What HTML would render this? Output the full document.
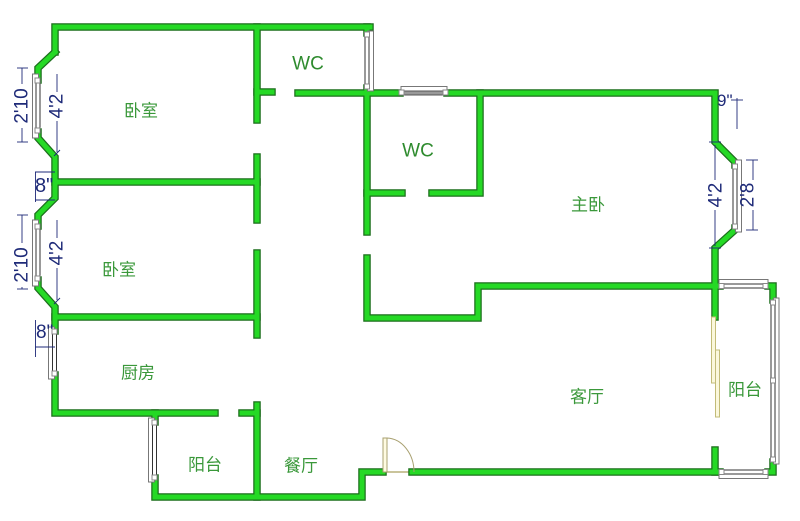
<!DOCTYPE html>
<html><head><meta charset="utf-8"><style>
html,body{margin:0;padding:0;background:#fff;}
svg{display:block;}
.rm{font-family:"Liberation Sans","Noto Sans CJK SC",sans-serif;font-size:17px;fill:#3a983a;}
.wc{font-family:"Liberation Sans",sans-serif;font-size:19px;fill:#2e8b2e;}
.dm{font-family:"Liberation Sans",sans-serif;font-size:19px;fill:#1e2a78;}
</style></head><body>
<svg width="800" height="521" viewBox="0 0 800 521" xmlns="http://www.w3.org/2000/svg">
<defs>
<g id="walls">
<path d="M55,52 L55,27 L370,27"/>
<path d="M367,27 L367,33"/>
<path d="M367,88 L367,232"/>
<path d="M367,258 L367,318 L478,318 L478,286 L720,286"/>
<path d="M768,286 L773,286 L773,300"/>
<path d="M773,462 L773,472 L768,472"/>
<path d="M720,472 L412,472"/>
<path d="M383,472 L362,472 L362,497 L155,497 L155,478"/>
<path d="M155,422 L155,413 L215,413"/>
<path d="M242,413 L257,413"/>
<path d="M257,405 L257,497"/>
<path d="M55,52 L38,68 L38,80"/>
<path d="M38,132 L38,138 L55,157 L55,198 L38,215 L38,226"/>
<path d="M38,280 L38,288 L55,307 L55,331"/>
<path d="M55,375 L55,413 L155,413"/>
<path d="M55,182 L257,182"/>
<path d="M257,157 L257,220"/>
<path d="M257,27 L257,120"/>
<path d="M257,92 L272,92"/>
<path d="M55,317 L257,317"/>
<path d="M257,253 L257,335"/>
<path d="M298,93 L400,93"/>
<path d="M447,93 L715,93 L715,142 L735,162 L735,165"/>
<path d="M735,228 L735,230 L715,248 L715,317"/>
<path d="M715,450 L715,472"/>
<path d="M480,93 L480,193 L432,193"/>
<path d="M402,193 L367,193"/>
</g>
</defs>
<rect width="800" height="521" fill="#fff"/>

<!-- door threshold -->
<line x1="383" y1="472" x2="413" y2="472" stroke="#b8b07a" stroke-width="1.5"/>

<!-- walls -->
<g fill="none" stroke="#1c6e1c" stroke-width="7.5" stroke-linecap="square" stroke-linejoin="miter"><use href="#walls"/></g>
<g fill="none" stroke="#25d925" stroke-width="5" stroke-linecap="square" stroke-linejoin="miter"><use href="#walls"/></g>

<!-- windows -->
<g stroke-width="1">
<!-- W1 -->
<rect x="32.5" y="74" width="6" height="64" fill="#fff" stroke="#777"/>
<rect x="36" y="80" width="4" height="52" fill="#fff" stroke="#333"/>
<rect x="35" y="78" width="5" height="5" fill="#fff" stroke="#888"/>
<rect x="35" y="128" width="5" height="5" fill="#fff" stroke="#888"/>
<!-- W2 -->
<rect x="32.5" y="220" width="6" height="66" fill="#fff" stroke="#777"/>
<rect x="36" y="226" width="4" height="54" fill="#fff" stroke="#333"/>
<rect x="35" y="224" width="5" height="5" fill="#fff" stroke="#888"/>
<rect x="35" y="276" width="5" height="5" fill="#fff" stroke="#888"/>
<!-- W3 kitchen -->
<rect x="48.5" y="327" width="6" height="52" fill="#fff" stroke="#777"/>
<rect x="52.5" y="331" width="4" height="44" fill="#fff" stroke="#333"/>
<rect x="52" y="329" width="5" height="5" fill="#fff" stroke="#888"/>
<rect x="52" y="371" width="5" height="5" fill="#fff" stroke="#888"/>
<!-- W4 balcony left -->
<rect x="148.5" y="418" width="6" height="64" fill="#fff" stroke="#777"/>
<rect x="152.5" y="422" width="4" height="56" fill="#fff" stroke="#333"/>
<rect x="152" y="420" width="5" height="5" fill="#fff" stroke="#888"/>
<rect x="152" y="475" width="5" height="5" fill="#fff" stroke="#888"/>
<!-- W5 WC right -->
<rect x="367.5" y="31" width="6" height="60" fill="#fff" stroke="#777"/>
<rect x="365" y="33" width="4" height="55" fill="#fff" stroke="#333"/>
<rect x="364.5" y="32" width="5" height="5" fill="#fff" stroke="#888"/>
<rect x="364.5" y="84" width="5" height="5" fill="#fff" stroke="#888"/>
<!-- W6 master bedroom -->
<rect x="735.5" y="160" width="6" height="72" fill="#fff" stroke="#777"/>
<rect x="733" y="165" width="4" height="63" fill="#fff" stroke="#333"/>
<rect x="732.5" y="164" width="5" height="5" fill="#fff" stroke="#888"/>
<rect x="732.5" y="224" width="5" height="5" fill="#fff" stroke="#888"/>
<!-- W7 balcony right -->
<rect x="773.5" y="298" width="5.5" height="166" fill="#fff" stroke="#777"/>
<rect x="771" y="300" width="4" height="162" fill="#fff" stroke="#333"/>
<rect x="770.5" y="300" width="5" height="5" fill="#fff" stroke="#888"/>
<rect x="770.5" y="378" width="5" height="5" fill="#fff" stroke="#888"/>
<rect x="770.5" y="457" width="5" height="5" fill="#fff" stroke="#888"/>
<!-- W8 top -->
<rect x="401" y="86.5" width="46" height="6" fill="#fff" stroke="#777"/>
<rect x="402" y="91" width="43" height="4" fill="#999" stroke="#555"/>
<rect x="399" y="90" width="5" height="5" fill="#fff" stroke="#888"/>
<rect x="443" y="90" width="5" height="5" fill="#fff" stroke="#888"/>
<!-- W9 balcony top -->
<rect x="719" y="279.5" width="49" height="6" fill="#fff" stroke="#777"/>
<rect x="721" y="284" width="46" height="4" fill="#fff" stroke="#333"/>
<rect x="719" y="283.5" width="5" height="5" fill="#fff" stroke="#888"/>
<rect x="763" y="283.5" width="5" height="5" fill="#fff" stroke="#888"/>
<!-- W10 balcony bottom -->
<rect x="719" y="472.5" width="49" height="6" fill="#fff" stroke="#777"/>
<rect x="721" y="470" width="46" height="4" fill="#fff" stroke="#333"/>
<rect x="719" y="469.5" width="5" height="5" fill="#fff" stroke="#888"/>
<rect x="763" y="469.5" width="5" height="5" fill="#fff" stroke="#888"/>
</g>

<!-- entry door -->
<rect x="383" y="438" width="4" height="34" fill="#fffbe2" stroke="#a8a070" stroke-width="1"/>
<path d="M387,438 A28,34 0 0 1 414,472" fill="none" stroke="#a8a070" stroke-width="1"/>

<!-- sliding door -->
<rect x="711.5" y="317" width="4" height="66" fill="#fbf8dc" stroke="#c2bb78" stroke-width="1"/>
<rect x="715.5" y="350" width="4" height="67" fill="#fbf8dc" stroke="#c2bb78" stroke-width="1"/>

<!-- dimension lines -->
<g stroke="#1e2a78" stroke-width="0.9" fill="none">
<line x1="22" y1="68" x2="22" y2="84"/><line x1="22" y1="128" x2="22" y2="142"/>
<line x1="17" y1="68" x2="28" y2="68"/><line x1="17" y1="142" x2="28" y2="142"/>
<line x1="57" y1="74" x2="57" y2="92"/><line x1="57" y1="121" x2="57" y2="152"/>
<line x1="54" y1="156" x2="60" y2="150"/>
<line x1="22" y1="215" x2="22" y2="243"/><line x1="22" y1="287" x2="22" y2="289"/>
<line x1="17" y1="215" x2="28" y2="215"/><line x1="17" y1="289" x2="28" y2="289"/>
<line x1="57" y1="220" x2="57" y2="238"/><line x1="57" y1="268" x2="57" y2="300"/>
<line x1="54" y1="304" x2="60" y2="298"/>
<line x1="35.5" y1="172" x2="35.5" y2="202"/><line x1="35" y1="172" x2="55" y2="172"/><line x1="35" y1="200" x2="55" y2="200"/>
<line x1="35.5" y1="320" x2="35.5" y2="357"/><line x1="35" y1="347" x2="55" y2="347"/>
<line x1="737" y1="98" x2="737" y2="129"/><line x1="731" y1="100" x2="743" y2="100"/>
<line x1="715" y1="145" x2="715" y2="180"/><line x1="715" y1="210" x2="715" y2="246"/>
<line x1="709" y1="142" x2="721" y2="142"/><line x1="709" y1="248" x2="721" y2="248"/>
<line x1="753" y1="160" x2="753" y2="180"/><line x1="753" y1="210" x2="753" y2="230"/>
<line x1="746" y1="160" x2="758" y2="160"/><line x1="746" y1="230" x2="758" y2="230"/>
</g>

<!-- dimension text -->
<text class="dm" x="22" y="106" text-anchor="middle" dominant-baseline="central" transform="rotate(-90 22 106)">2'10</text>
<text class="dm" x="57" y="106" text-anchor="middle" dominant-baseline="central" transform="rotate(-90 57 106)">4'2</text>
<text class="dm" x="22" y="265" text-anchor="middle" dominant-baseline="central" transform="rotate(-90 22 265)">2'10</text>
<text class="dm" x="57" y="253" text-anchor="middle" dominant-baseline="central" transform="rotate(-90 57 253)">4'2</text>
<text class="dm" x="716" y="195" text-anchor="middle" dominant-baseline="central" transform="rotate(-90 716 195)">4'2</text>
<text class="dm" x="748" y="195" text-anchor="middle" dominant-baseline="central" transform="rotate(-90 748 195)">2'8</text>
<text class="dm" x="35" y="192" style="font-size:20px">8"</text>
<text class="dm" x="36" y="338" style="font-size:19px">8"</text>
<text class="dm" x="717" y="106" style="font-size:17px">9"</text>

<!-- room labels -->
<text class="rm" x="141" y="111" text-anchor="middle" dominant-baseline="central">卧室</text>
<text class="rm" x="119" y="270" text-anchor="middle" dominant-baseline="central">卧室</text>
<text class="rm" x="138" y="373" text-anchor="middle" dominant-baseline="central">厨房</text>
<text class="rm" x="205" y="465" text-anchor="middle" dominant-baseline="central">阳台</text>
<text class="rm" x="301" y="466" text-anchor="middle" dominant-baseline="central">餐厅</text>
<text class="rm" x="588" y="205" text-anchor="middle" dominant-baseline="central">主卧</text>
<text class="rm" x="587" y="397" text-anchor="middle" dominant-baseline="central">客厅</text>
<text class="rm" x="745" y="390" text-anchor="middle" dominant-baseline="central">阳台</text>
<text class="wc" x="308" y="64" text-anchor="middle" dominant-baseline="central">WC</text>
<text class="wc" x="418" y="151" text-anchor="middle" dominant-baseline="central">WC</text>
</svg>
</body></html>
